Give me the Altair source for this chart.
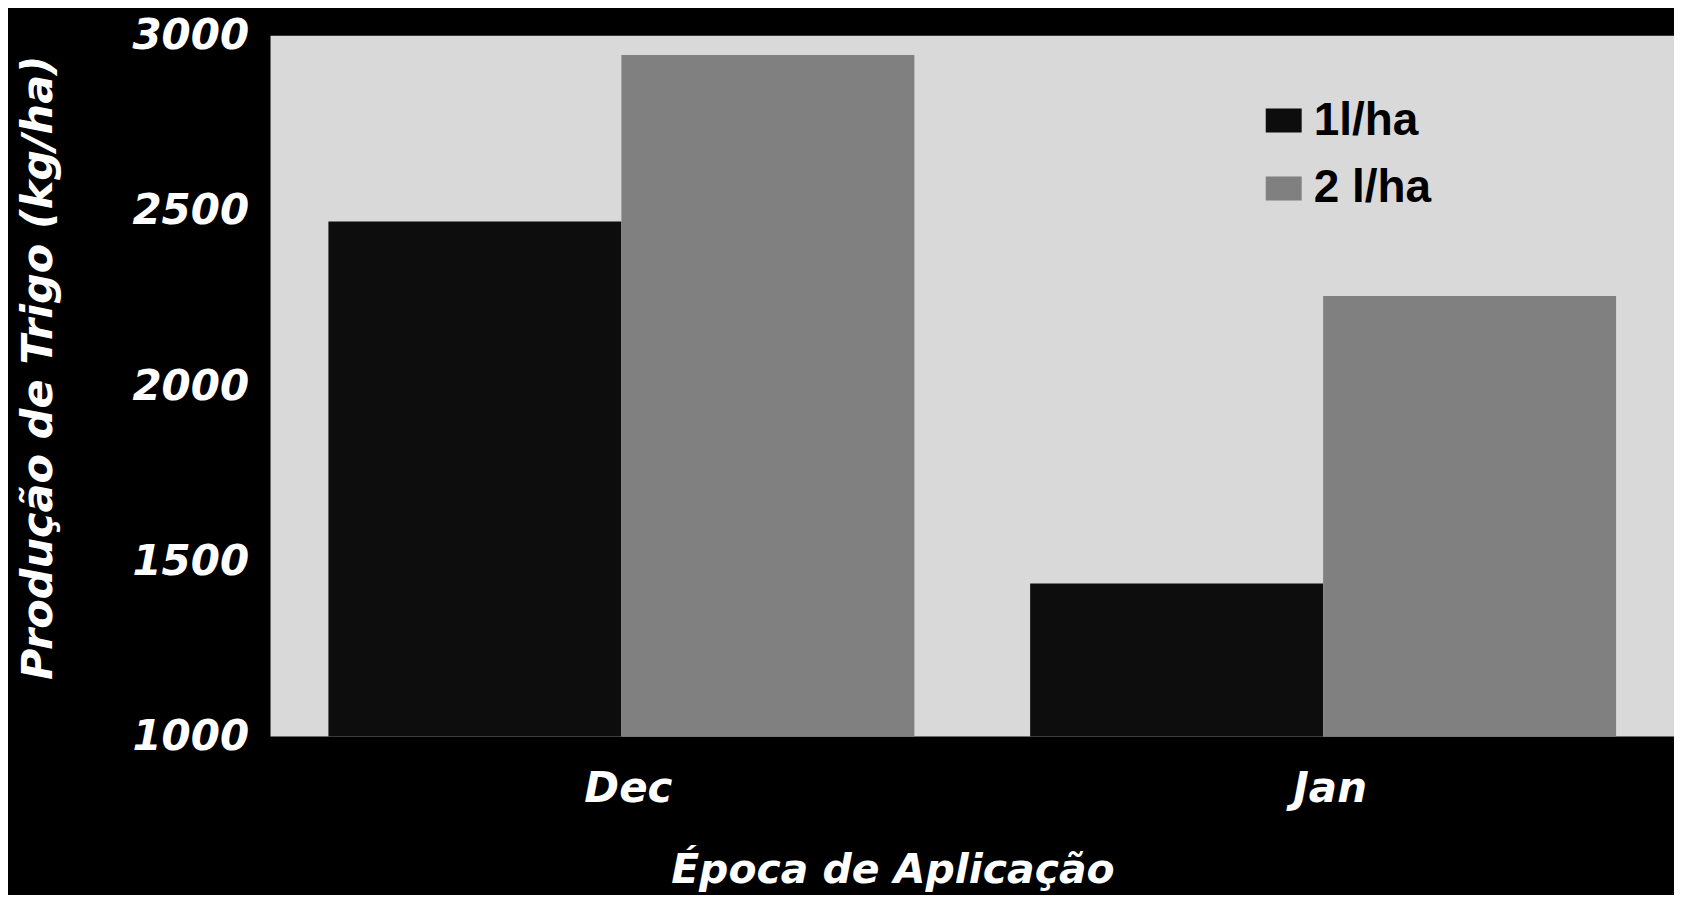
import altair as alt
import pandas as pd

months = ["Dec", "Jan"]
series = ["1l/ha", "2 l/ha"]
dose_1 = [2470, 1437]
dose_2 = [2945, 2257]
y_ticks = [1000, 1500, 2000, 2500, 3000]

rows = []
for i, m in enumerate(months):
    rows.append({"mes": m, "serie": series[0], "valor": dose_1[i]})
    rows.append({"mes": m, "serie": series[1], "valor": dose_2[i]})
df = pd.DataFrame(rows)

FONT = "DejaVu Sans"

chart = alt.Chart(df).mark_bar().encode(
    x=alt.X(
        "mes:N",
        sort=months,
        scale=alt.Scale(paddingInner=0.165, paddingOuter=0.0825),
        axis=alt.Axis(
            title="Época de Aplicação",
            labelAngle=0,
            labelFont=FONT,
            labelFontSize=42,
            labelFontWeight="bold",
            labelFontStyle="italic",
            labelColor="white",
            labelPadding=32,
            labelOffset=7,
            domain=False,
            ticks=False,
            titleFont=FONT,
            titleFontSize=41,
            titleFontWeight="bold",
            titleFontStyle="italic",
            titleColor="white",
            titleX=623,
            titleY=134,
            titleBaseline="middle",
            titleAlign="center",
        ),
    ),
    xOffset=alt.XOffset("serie:N", sort=series),
    y=alt.Y(
        "valor:Q",
        scale=alt.Scale(domain=[1000, 3000], nice=False, zero=False),
        axis=alt.Axis(
            title="Produção de Trigo (kg/ha)",
            values=y_ticks,
            format="d",
            grid=False,
            domain=False,
            ticks=False,
            labelFont=FONT,
            labelFontSize=42,
            labelFontWeight="bold",
            labelFontStyle="italic",
            labelColor="white",
            labelPadding=22,
            titleFont=FONT,
            titleFontSize=43,
            titleFontWeight="bold",
            titleFontStyle="italic",
            titleColor="white",
            titleX=-232,
            titleY=332,
            titleBaseline="middle",
            titleAlign="center",
        ),
    ),
    y2=alt.datum(1000),
    color=alt.Color(
        "serie:N",
        sort=series,
        scale=alt.Scale(domain=series, range=["#0d0d0d", "#808080"]),
        legend=alt.Legend(
            title=None,
            orient="none",
            legendX=992,
            legendY=62,
            padding=0,
            symbolType="M-1.5,-1L1.5,-1L1.5,1L-1.5,1Z",
            symbolSize=576,
            symbolStrokeWidth=0,
            labelFont="Liberation Sans",
            labelFontSize=46,
            labelFontWeight="bold",
            labelColor="black",
            labelOffset=7,
            rowPadding=22,
        ),
    ),
).properties(
    width=1406,
    height=702,
    autosize="none",
    padding={"left": 263, "top": 27, "right": 0, "bottom": 158},
    background="black",
).configure_view(fill="#d9d9d9", strokeWidth=0)

chart.save("out.html", embed_options={"renderer": "svg", "actions": False})
